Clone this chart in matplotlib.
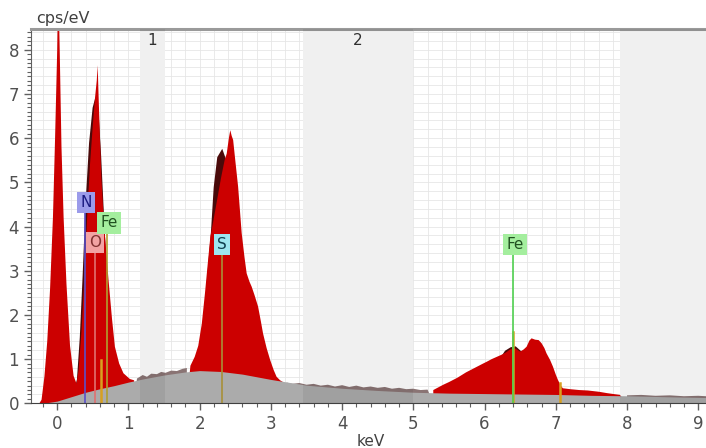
import numpy as np
import matplotlib
matplotlib.use("Agg")
import matplotlib.pyplot as plt

# spectrum (keV, cps/eV)
spec_kev = [-0.37, -0.25, -0.22, -0.18, -0.14, -0.10, -0.06, -0.03, 0.0, 0.015, 0.035, 0.06,
            0.09, 0.13, 0.18, 0.23, 0.27, 0.30, 0.34, 0.38, 0.42, 0.46, 0.50, 0.53, 0.555,
            0.568, 0.58, 0.60, 0.62, 0.66, 0.72, 0.77, 0.81, 0.87, 0.93, 1.02, 1.08, 1.12,
            1.20, 1.26, 1.32, 1.40, 1.46, 1.52, 1.60, 1.68, 1.76, 1.82, 1.87, 1.93, 1.98,
            2.03, 2.075, 2.11, 2.15, 2.20, 2.25, 2.30, 2.35, 2.38, 2.41, 2.43, 2.45, 2.47,
            2.50, 2.54, 2.59, 2.63, 2.66, 2.70, 2.73, 2.77, 2.82, 2.86, 2.89, 2.94, 2.99,
            3.04, 3.08, 3.13, 3.17, 3.22, 3.30, 3.40, 3.50, 3.60, 3.70, 3.80, 3.90, 4.00,
            4.10, 4.20, 4.30, 4.40, 4.50, 4.60, 4.70, 4.80, 4.90, 5.00, 5.10, 5.20, 5.28,
            5.35, 5.42, 5.50, 5.56, 5.62, 5.68, 5.74, 5.80, 5.86, 5.92, 5.98, 6.03, 6.10,
            6.17, 6.24, 6.30, 6.36, 6.43, 6.47, 6.50, 6.55, 6.59, 6.63, 6.66, 6.71, 6.76,
            6.80, 6.84, 6.87, 6.92, 6.96, 7.00, 7.03, 7.07, 7.10, 7.20, 7.33, 7.45, 7.61,
            7.72, 7.81, 7.90, 8.00, 8.20, 8.40, 8.60, 8.80, 9.00, 9.11]
spec_cps = [0.0, 0.0, 0.08, 0.6, 1.4, 2.6, 4.2, 6.0, 8.0, 9.6, 8.0, 5.8,
            4.2, 2.7, 1.3, 0.62, 0.45, 0.75, 1.6, 2.8, 4.2, 5.4, 6.3, 6.9, 7.3,
            7.65, 7.0, 6.0, 5.1, 4.0, 2.8, 1.9, 1.28, 0.9, 0.68, 0.55, 0.52, 0.56,
            0.64, 0.60, 0.67, 0.66, 0.71, 0.69, 0.74, 0.73, 0.78, 0.80, 0.85, 1.05, 1.3,
            1.8, 2.5, 3.1, 3.77, 4.2, 4.65, 5.1, 5.5, 5.65, 6.0, 6.18, 6.05, 5.96,
            5.5, 4.9, 3.85, 3.3, 2.94, 2.75, 2.64, 2.45, 2.19, 1.85, 1.58, 1.25, 0.98,
            0.75, 0.6, 0.52, 0.48, 0.47, 0.44, 0.46, 0.42, 0.44, 0.40, 0.42, 0.38, 0.41,
            0.37, 0.40, 0.36, 0.38, 0.35, 0.37, 0.33, 0.35, 0.32, 0.33, 0.30, 0.31, 0.30,
            0.36, 0.42, 0.48, 0.53, 0.58, 0.64, 0.70, 0.75, 0.80, 0.85, 0.90, 0.94, 1.00,
            1.05, 1.10, 1.15, 1.22, 1.24, 1.20, 1.17, 1.22, 1.28, 1.42, 1.47, 1.44, 1.43,
            1.36, 1.25, 1.13, 0.98, 0.83, 0.65, 0.53, 0.40, 0.34, 0.32, 0.30, 0.29, 0.26,
            0.23, 0.21, 0.19, 0.18, 0.19, 0.17, 0.18, 0.16, 0.17, 0.16]

# background (bremsstrahlung)
bg_kev = [-0.37, -0.2, 0.0, 0.2, 0.4, 0.6, 0.8, 1.0, 1.2, 1.5, 1.8, 2.0, 2.3, 2.6,
          3.0, 3.5, 4.0, 4.5, 5.0, 5.5, 6.0, 6.5, 7.0, 7.5, 8.0, 8.5, 9.11]
bg_cps = [0.0, 0.0, 0.05, 0.15, 0.25, 0.33, 0.40, 0.48, 0.55, 0.64, 0.71, 0.74, 0.72, 0.66,
          0.54, 0.41, 0.34, 0.29, 0.25, 0.23, 0.22, 0.21, 0.20, 0.18, 0.17, 0.15, 0.13]

# fitted element peaks (dark)
fit_no_kev = [0.22, 0.27, 0.31, 0.35, 0.39, 0.44, 0.49, 0.53, 0.57, 0.61, 0.66, 0.72, 0.80, 0.90, 1.00]
fit_no_cps = [0.2, 0.55, 1.5, 2.9, 4.5, 5.9, 6.7, 6.94, 6.7, 5.6, 3.9, 2.2, 1.0, 0.5, 0.35]
fit_s_kev = [1.95, 2.0, 2.05, 2.1, 2.15, 2.19, 2.24, 2.31, 2.37, 2.44, 2.52, 2.6, 2.7, 2.8, 2.9]
fit_s_cps = [0.9, 1.3, 1.9, 2.9, 3.85, 4.9, 5.58, 5.77, 5.5, 4.6, 3.2, 2.0, 1.2, 0.85, 0.7]
fit_fe_kev = [5.9, 6.0, 6.1, 6.2, 6.28, 6.36, 6.43, 6.5, 6.58, 6.7, 6.85, 7.0]
fit_fe_cps = [0.3, 0.45, 0.7, 1.0, 1.2, 1.28, 1.3, 1.2, 0.95, 0.6, 0.3, 0.2]

# element labels
el_names = ['N', 'O', 'Fe', 'S', 'Fe']
el_kev = [0.392, 0.525, 0.705, 2.307, 6.40]
el_label_x = [0.405, 0.53, 0.727, 2.31, 6.425]
el_label_y = [4.54, 3.63, 4.08, 3.6, 3.6]
el_box = ['#9b9bea', '#f2a3a3', '#a4ee9e', '#9ee6f0', '#a4ee9e']
el_text = ['#1a1a80', '#803030', '#205020', '#104050', '#205020']
el_line = ['#5a50c8', '#e07070', '#b0a030', '#a89038', '#50d050']

# short line markers
mark_kev = [0.615, 6.40, 7.06]
mark_cps = [0.98, 1.62, 0.45]

# region bands
band_lo = [1.16, 3.45, 7.9]
band_hi = [1.51, 5.0, 9.2]
band_names = ['1', '2', '']

peak_windows = [(-0.3, 1.1), (1.84, 3.2), (5.25, 7.95)]

fig = plt.figure(figsize=(7.06, 4.48), dpi=100)
ax = fig.add_axes([31 / 706, (448 - 403.3) / 448, 1 - 31 / 706, (403.3 - 29) / 448])
xmin, xmax, ymax = -0.368, 9.109, 8.47
ax.set_xlim(xmin, xmax)
ax.set_ylim(0, ymax)

# fine grid
gx = np.arange(-0.2, 9.2, 0.2)
gy = np.arange(0.2, 8.5, 0.2)
ax.vlines(gx, 0, ymax, color='#e6e6e6', lw=0.6, zorder=0)
ax.hlines(gy, xmin, xmax, color='#e6e6e6', lw=0.6, zorder=0)

for lo, hi in zip(band_lo, band_hi):
    ax.axvspan(lo, hi, color='white', zorder=0.5, lw=0)

sx = np.array(spec_kev)
sy = np.array(spec_cps)

# fitted peaks under the spectrum
for fx, fy in [(fit_no_kev, fit_no_cps), (fit_s_kev, fit_s_cps), (fit_fe_kev, fit_fe_cps)]:
    ax.fill_between(fx, 0, fy, color='#4a0a0a', lw=0, zorder=1)

in_peak = np.zeros(len(sx), dtype=bool)
for lo, hi in peak_windows:
    in_peak |= (sx >= lo) & (sx <= hi)
ax.fill_between(sx, 0, sy, where=in_peak, interpolate=True, color='#cc0000', lw=0, zorder=2)
ax.fill_between(sx, 0, sy, where=~in_peak, interpolate=True, color='#8a7474', lw=0, zorder=2)

ax.fill_between(bg_kev, 0, bg_cps, color='#ababab', lw=0, zorder=3)

for lo, hi, nm in zip(band_lo, band_hi, band_names):
    ax.axvspan(lo, hi, color='black', alpha=0.06, zorder=4, lw=0)
    if nm:
        ax.text((lo + hi) / 2, 8.22, nm, ha='center', va='center', fontsize=11, color='#303030', zorder=6)

for k, h in zip(mark_kev, mark_cps):
    ax.plot([k, k], [0, h], color='#d8a020', lw=1.8, zorder=5)

for nm, k, lx, ly, bc, tc, lc in zip(el_names, el_kev, el_label_x, el_label_y, el_box, el_text, el_line):
    ax.plot([k, k], [0, ly - 0.2], color=lc, lw=1.2, zorder=5)
    ax.text(lx, ly, nm, ha='center', va='center', fontsize=11, color=tc, zorder=7,
            bbox=dict(boxstyle='square,pad=0.2', fc=bc, ec='none'))

ax.set_xticks(range(0, 10))
ax.set_xticks(np.arange(-0.2, 9.2, 0.2), minor=True)
ax.set_yticks(range(0, 9))
ax.set_yticks(np.arange(0, 8.5, 0.1), minor=True)
ax.tick_params(which='both', colors='#606060', labelcolor='#505050', labelsize=12)
ax.tick_params(which='major', length=5, width=1)
ax.tick_params(which='minor', length=3, width=0.8)

ax.spines['right'].set_visible(False)
ax.spines['top'].set_color('#9a9a9a')
ax.spines['top'].set_linewidth(2.2)
ax.spines['left'].set_color('#606060')
ax.spines['bottom'].set_color('#404040')
ax.spines['bottom'].set_zorder(8)

fig.text(63 / 706, 1 - 19 / 448, 'cps/eV', ha='center', va='center', fontsize=11.5, color='#404040')
fig.text(371 / 706, 1 - 434 / 448, 'keV', ha='center', va='top', fontsize=11, color='#404040')

fig.savefig('out.png', dpi=100)
